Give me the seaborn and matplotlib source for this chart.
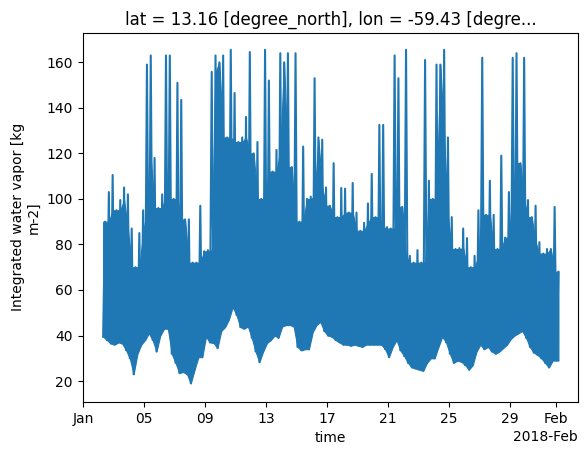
import numpy as np
import pandas as pd
import matplotlib
matplotlib.use("Agg")
import matplotlib.pyplot as plt
import matplotlib.dates as mdates
import seaborn as sns

# ---- data ----
start_day = 1.3          # days after 2018-01-01 00:00
step_days = 0.25         # spacing of envelope readings
upper = [90, 103, 110.5, 95, 99.5, 105, 102, 87, 70, 85, 95, 159, 163, 118, 96, 102, 163, 163, 100, 151, 143.5, 91, 91, 72, 72,
         97, 77, 77.5, 155.8, 163, 160, 163, 127, 165.5, 146.5, 125, 127, 136, 164.5, 120, 125, 100, 165.5, 152, 112, 121.5, 164, 160, 164, 114,
         164, 90, 123, 100, 101, 153, 127, 126, 105, 97, 115.7, 92, 104.8, 104.5, 94, 107, 94, 86, 89.5, 98, 111, 92, 132.5, 132.5, 87.6,
         87, 163, 153, 96.5, 165.5, 75, 72, 77.5, 72, 161, 108, 100, 159, 159, 165.5, 127, 92, 78, 78.4, 87, 82.8, 70, 75, 95, 162,
         93, 108, 93, 78, 119, 83, 103, 162, 164, 115.7, 162, 99.5, 92, 97, 81, 76, 78, 78, 96.5, 68]
lower = [39.5, 38, 36.5, 36, 37, 36.5, 33.6, 30, 23, 32, 36, 38, 41, 38, 33, 40, 43, 43, 32, 28, 23.5, 24, 23, 19, 25,
         30.5, 30.5, 39.5, 37, 36.7, 34.5, 42, 43.7, 47, 52.5, 49, 43.7, 43, 44, 39, 33, 28.3, 33, 36.7, 38, 40, 39, 44, 44.6, 44.6,
         44, 35, 33.5, 34, 34, 41.5, 44.6, 46, 42, 40, 39.5, 38, 37, 36, 36, 35.5, 36, 35.5, 35, 36, 36, 36, 36, 36, 34,
         30.5, 35, 38, 33.5, 31, 28, 26, 25.5, 25, 24.5, 28, 30, 30, 35, 39.5, 37, 32, 28, 29, 28.5, 27, 25, 27, 33, 36,
         34, 35, 33, 32, 33, 34.5, 36, 38.5, 40, 41, 42, 39, 35, 32.5, 31.5, 30, 28, 26, 29, 29]
yticks = [20, 40, 60, 80, 100, 120, 140, 160]
title = "lat = 13.16 [degree_north], lon = -59.43 [degre..."
ylabel = "Integrated water vapor [kg\nm-2]"
xlabel = "time"

color = "#1f77b4"

# ---- build the series: alternating low / high readings ----
base = pd.Timestamp("2018-01-01")
n = len(upper)
low_t = start_day + np.arange(n) * step_days
up_t = low_t + step_days / 2
t_days = np.empty(2 * n)
t_days[0::2] = low_t
t_days[1::2] = up_t
vals = np.empty(2 * n)
vals[0::2] = lower
vals[1::2] = upper
times = base + pd.to_timedelta(t_days, unit="D")
df = pd.DataFrame({"time": times, "iwv": vals})

# dense body of the oscillation: between the lows and the local minimum of the highs
up = np.array(upper, dtype=float)
body = np.minimum(np.minimum(up, np.r_[up[0], up[:-1]]), np.r_[up[1:], up[-1]])
fill_lo = np.interp(t_days, low_t, np.array(lower, dtype=float))
fill_hi = np.interp(t_days, up_t, body)
fill_hi = np.maximum(fill_hi, fill_lo)

fig = plt.figure(figsize=(5.87, 4.55), dpi=100)
ax = fig.add_axes([0.1409, 0.1165, 0.9847 - 0.1409, 0.9281 - 0.1165])
ax.fill_between(times, fill_lo, fill_hi, color=color, linewidth=0.8, edgecolor=color)
sns.lineplot(data=df, x="time", y="iwv", ax=ax, estimator=None, sort=False,
             color=color, linewidth=1.5)

ax.set_xlim(base + pd.Timedelta(days=-0.04), base + pd.Timedelta(days=32.46))
ax.set_ylim(10.8, 173.0)
ax.set_yticks(yticks)
loc = mdates.DayLocator(bymonthday=[1, 5, 9, 13, 17, 21, 25, 29])
ax.xaxis.set_major_locator(loc)
ax.xaxis.set_major_formatter(mdates.ConciseDateFormatter(loc))
ax.set_xlabel(xlabel)
ax.set_ylabel(ylabel)
ax.set_title(title)

fig.savefig("out.png", dpi=100)
